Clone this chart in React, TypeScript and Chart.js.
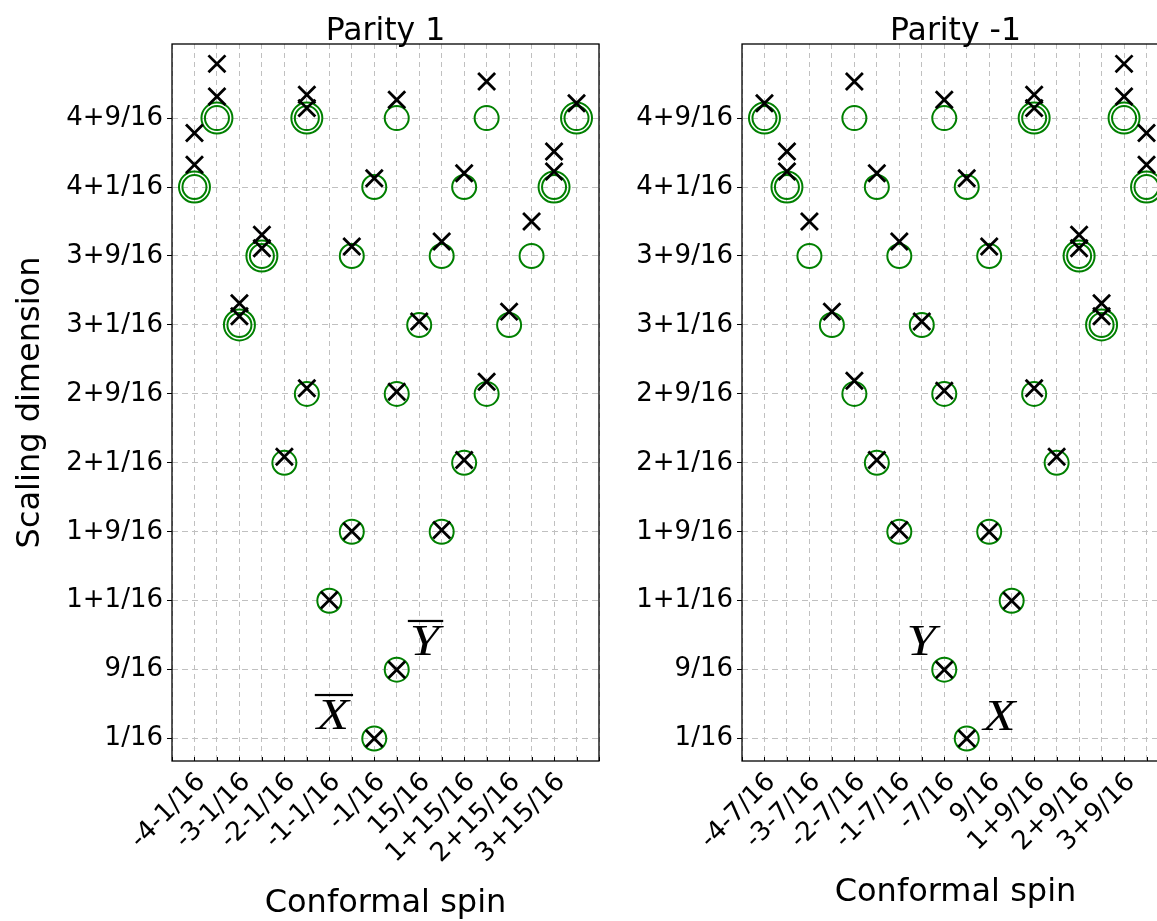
import React, { useEffect, useRef } from "react";
import { Chart, registerables } from "chart.js";

Chart.register(...registerables);

const FONT = '"DejaVu Sans", "Liberation Sans", sans-serif';

// ---- shared y axis ----
const Y_TICK_VALUES = [0.0625, 0.5625, 1.0625, 1.5625, 2.0625, 2.5625, 3.0625, 3.5625, 4.0625, 4.5625];
const Y_TICK_LABELS = ["1/16", "9/16", "1+1/16", "1+9/16", "2+1/16", "2+9/16", "3+1/16", "3+9/16", "4+1/16", "4+9/16"];

// ---- Parity 1 ----
const P1_X_TICK_VALUES = [-4.0625, -3.0625, -2.0625, -1.0625, -0.0625, 0.9375, 1.9375, 2.9375, 3.9375];
const P1_X_TICK_LABELS = ["-4-1/16", "-3-1/16", "-2-1/16", "-1-1/16", "-1/16", "15/16", "1+15/16", "2+15/16", "3+15/16"];

const P1_EXACT_SPIN = [
  -3.5625, -1.5625, 0.4375, 2.4375, 4.4375,
  -4.0625, -0.0625, 1.9375, 3.9375,
  -2.5625, -0.5625, 1.4375, 3.4375,
  -3.0625, 0.9375, 2.9375,
  -1.5625, 0.4375, 2.4375,
  -2.0625, 1.9375,
  -0.5625, 1.4375,
  -1.0625,
  0.4375,
  -0.0625,
];
const P1_EXACT_DIM = [
  4.5625, 4.5625, 4.5625, 4.5625, 4.5625,
  4.0625, 4.0625, 4.0625, 4.0625,
  3.5625, 3.5625, 3.5625, 3.5625,
  3.0625, 3.0625, 3.0625,
  2.5625, 2.5625, 2.5625,
  2.0625, 2.0625,
  1.5625, 1.5625,
  1.0625,
  0.5625,
  0.0625,
];
const P1_DEG_SPIN = [-3.5625, -1.5625, 4.4375, -4.0625, 3.9375, -2.5625, -3.0625];
const P1_DEG_DIM = [4.5625, 4.5625, 4.5625, 4.0625, 4.0625, 3.5625, 3.0625];

const P1_NUM_SPIN = [
  -4.0625, -4.0625, -3.5625, -3.5625, -3.0625, -3.0625, -2.5625, -2.5625,
  -2.0625, -1.5625, -1.5625, -1.5625, -1.0625, -0.5625, -0.5625, -0.0625,
  -0.0625, 0.4375, 0.4375, 0.4375, 0.9375, 1.4375, 1.4375, 1.9375,
  1.9375, 2.4375, 2.4375, 2.9375, 3.4375, 3.9375, 3.9375, 4.4375,
];
const P1_NUM_DIM = [
  4.224, 4.454, 4.719, 4.956, 3.125, 3.22, 3.619, 3.716,
  2.107, 2.603, 4.635, 4.732, 1.067, 1.566, 3.631, 0.0625,
  4.127, 0.5625, 2.578, 4.695, 3.087, 1.575, 3.667, 2.083,
  4.163, 2.651, 4.828, 3.159, 3.812, 4.175, 4.32, 4.671,
];

// ---- Parity -1 ----
const PM1_X_TICK_VALUES = [-4.4375, -3.4375, -2.4375, -1.4375, -0.4375, 0.5625, 1.5625, 2.5625, 3.5625];
const PM1_X_TICK_LABELS = ["-4-7/16", "-3-7/16", "-2-7/16", "-1-7/16", "-7/16", "9/16", "1+9/16", "2+9/16", "3+9/16"];

const PM1_EXACT_SPIN = [
  -4.4375, -2.4375, -0.4375, 1.5625, 3.5625,
  -3.9375, -1.9375, 0.0625, 4.0625,
  -3.4375, -1.4375, 0.5625, 2.5625,
  -2.9375, -0.9375, 3.0625,
  -2.4375, -0.4375, 1.5625,
  -1.9375, 2.0625,
  -1.4375, 0.5625,
  1.0625,
  -0.4375,
  0.0625,
];
const PM1_EXACT_DIM = [
  4.5625, 4.5625, 4.5625, 4.5625, 4.5625,
  4.0625, 4.0625, 4.0625, 4.0625,
  3.5625, 3.5625, 3.5625, 3.5625,
  3.0625, 3.0625, 3.0625,
  2.5625, 2.5625, 2.5625,
  2.0625, 2.0625,
  1.5625, 1.5625,
  1.0625,
  0.5625,
  0.0625,
];
const PM1_DEG_SPIN = [-4.4375, 1.5625, 3.5625, -3.9375, 4.0625, 2.5625, 3.0625];
const PM1_DEG_DIM = [4.5625, 4.5625, 4.5625, 4.0625, 4.0625, 3.5625, 3.0625];

const PM1_NUM_SPIN = [
  -4.4375, -3.9375, -3.9375, -3.4375, -2.9375, -2.4375, -2.4375, -1.9375,
  -1.9375, -1.4375, -1.4375, -0.9375, -0.4375, -0.4375, -0.4375, 0.0625,
  0.0625, 0.5625, 0.5625, 1.0625, 1.5625, 1.5625, 1.5625, 2.0625,
  2.5625, 2.5625, 3.0625, 3.0625, 3.5625, 3.5625, 4.0625, 4.0625,
];
const PM1_NUM_DIM = [
  4.671, 4.175, 4.32, 3.812, 3.159, 2.658, 4.828, 2.083,
  4.163, 1.575, 3.667, 3.087, 0.5625, 2.586, 4.695, 0.0625,
  4.127, 1.5625, 3.631, 1.0625, 2.603, 4.635, 4.732, 2.107,
  3.619, 3.716, 3.125, 3.22, 4.719, 4.956, 4.224, 4.454,
];

type Annot = { text: string; bar: boolean; x: number; y: number };

const P1_ANNOTS: Annot[] = [
  { text: "X", bar: true, x: -1.341, y: 0.129 },
  { text: "Y", bar: true, x: 0.729, y: 0.666 },
];
const PM1_ANNOTS: Annot[] = [
  { text: "Y", bar: false, x: -1.278, y: 0.666 },
  { text: "X", bar: false, x: 0.428, y: 0.127 },
];

interface Panel {
  title: string;
  xMin: number;
  xMax: number;
  xTickValues: number[];
  xTickLabels: string[];
  exactSpin: number[];
  exactDim: number[];
  degSpin: number[];
  degDim: number[];
  numSpin: number[];
  numDim: number[];
  annots: Annot[];
  yAxisWidth: number;
  padRight: number;
  yTitle: boolean;
  xTitlePad: number;
}

const PANELS: Panel[] = [
  {
    title: "Parity 1",
    xMin: -4.5625,
    xMax: 4.9375,
    xTickValues: P1_X_TICK_VALUES,
    xTickLabels: P1_X_TICK_LABELS,
    exactSpin: P1_EXACT_SPIN,
    exactDim: P1_EXACT_DIM,
    degSpin: P1_DEG_SPIN,
    degDim: P1_DEG_DIM,
    numSpin: P1_NUM_SPIN,
    numDim: P1_NUM_DIM,
    annots: P1_ANNOTS,
    yAxisWidth: 172,
    padRight: 21,
    yTitle: true,
    xTitlePad: 0,
  },
  {
    title: "Parity -1",
    xMin: -4.9375,
    xMax: 4.5625,
    xTickValues: PM1_X_TICK_VALUES,
    xTickLabels: PM1_X_TICK_LABELS,
    exactSpin: PM1_EXACT_SPIN,
    exactDim: PM1_EXACT_DIM,
    degSpin: PM1_DEG_SPIN,
    degDim: PM1_DEG_DIM,
    numSpin: PM1_NUM_SPIN,
    numDim: PM1_NUM_DIM,
    annots: PM1_ANNOTS,
    yAxisWidth: 142,
    padRight: 31,
    yTitle: false,
    xTitlePad: 11,
  },
];

const pts = (xs: number[], ys: number[]) => xs.map((x, i) => ({ x, y: ys[i] }));

function buildConfig(p: Panel): any {
  const decor = {
    id: "decor",
    afterDraw(chart: any) {
      const { ctx, chartArea } = chart;
      const xs = chart.scales.x;
      const ys = chart.scales.y;
      ctx.save();
      // inward x ticks
      ctx.strokeStyle = "#000";
      ctx.lineWidth = 1;
      xs.ticks.forEach((t: any) => {
        const px = Math.round(xs.getPixelForValue(t.value)) + 0.5;
        ctx.beginPath();
        ctx.moveTo(px, chartArea.bottom);
        ctx.lineTo(px, chartArea.bottom - 4);
        ctx.stroke();
      });
      // frame
      ctx.lineWidth = 1.3;
      ctx.strokeRect(chartArea.left, chartArea.top, chartArea.right - chartArea.left, chartArea.bottom - chartArea.top);
      // title
      ctx.fillStyle = "#000";
      ctx.font = `31.5px ${FONT}`;
      ctx.textAlign = "center";
      ctx.textBaseline = "alphabetic";
      ctx.fillText(p.title, (chartArea.left + chartArea.right) / 2, 40);
      // annotations
      p.annots.forEach((a) => {
        const px = xs.getPixelForValue(a.x);
        const py = ys.getPixelForValue(a.y);
        ctx.save();
        ctx.font = `italic 44px "Liberation Serif", "DejaVu Serif", serif`;
        ctx.textAlign = "left";
        ctx.translate(px, py);
        ctx.scale(1.2, 1);
        ctx.fillText(a.text, 0, 0);
        const w = ctx.measureText(a.text).width;
        ctx.restore();
        if (a.bar) {
          ctx.fillRect(px - 2, py - 35.5, w * 1.2 + 6, 2.2);
        }
      });
      ctx.restore();
    },
  };

  return {
    type: "scatter",
    data: {
      datasets: [
        {
          label: "numerical",
          data: pts(p.numSpin, p.numDim),
          pointStyle: "crossRot",
          pointRadius: 12,
          pointHoverRadius: 12,
          pointBorderColor: "#000000",
          pointBackgroundColor: "#000000",
          pointBorderWidth: 2.8,
          pointHoverBorderWidth: 2.8,
          showLine: false,
          order: 0,
          clip: false,
        },
        {
          label: "exact",
          data: pts(p.exactSpin, p.exactDim),
          pointStyle: "circle",
          pointRadius: 12,
          pointHoverRadius: 12,
          pointBorderColor: "#008000",
          pointBackgroundColor: "rgba(0,0,0,0)",
          pointBorderWidth: 2,
          pointHoverBorderWidth: 2,
          showLine: false,
          order: 1,
          clip: false,
        },
        {
          label: "degenerate",
          data: pts(p.degSpin, p.degDim),
          pointStyle: "circle",
          pointRadius: 15.5,
          pointHoverRadius: 15.5,
          pointBorderColor: "#008000",
          pointBackgroundColor: "rgba(0,0,0,0)",
          pointBorderWidth: 2,
          pointHoverBorderWidth: 2,
          showLine: false,
          order: 2,
          clip: false,
        },
      ],
    },
    options: {
      responsive: false,
      animation: false,
      events: [],
      layout: { padding: { left: 0, top: 44, right: p.padRight, bottom: 0 } },
      plugins: {
        legend: { display: false },
        tooltip: { enabled: false },
        title: { display: false },
      },
      scales: {
        x: {
          type: "linear",
          min: p.xMin,
          max: p.xMax,
          afterBuildTicks: (scale: any) => {
            const t: any[] = [];
            for (let v = p.xMin; v <= p.xMax + 1e-9; v += 0.5) t.push({ value: v });
            scale.ticks = t;
          },
          afterFit: (scale: any) => {
            scale.height = 160;
            scale.paddingLeft = 0;
            scale.paddingRight = 0;
          },
          ticks: {
            autoSkip: false,
            minRotation: 45,
            maxRotation: 45,
            padding: 6,
            labelOffset: 7,
            color: "#000",
            font: { family: FONT, size: 26 },
            callback: (value: number) => {
              const i = p.xTickValues.findIndex((v) => Math.abs(v - value) < 1e-6);
              return i >= 0 ? p.xTickLabels[i] : "";
            },
          },
          grid: {
            color: "#c0c0c0",
            lineWidth: 1,
            drawTicks: false,
          },
          border: { display: false, dash: [5, 4] },
          title: {
            display: true,
            text: "Conformal spin",
            color: "#000",
            font: { family: FONT, size: 32, lineHeight: 1.1 },
            padding: { top: 0, bottom: p.xTitlePad },
          },
        },
        y: {
          type: "linear",
          min: -0.1,
          max: 5.1,
          afterBuildTicks: (scale: any) => {
            scale.ticks = Y_TICK_VALUES.map((v) => ({ value: v }));
          },
          afterFit: (scale: any) => {
            scale.width = p.yAxisWidth;
            scale.paddingTop = 0;
            scale.paddingBottom = 0;
          },
          ticks: {
            autoSkip: false,
            padding: 4,
            color: "#000",
            font: { family: FONT, size: 26 },
            callback: (value: number) => {
              const i = Y_TICK_VALUES.findIndex((v) => Math.abs(v - value) < 1e-6);
              return i >= 0 ? Y_TICK_LABELS[i] : "";
            },
          },
          grid: {
            color: "#c0c0c0",
            lineWidth: 1,
            drawTicks: true,
            tickLength: 5,
            tickColor: "#000",
            tickWidth: 1,
          },
          border: { display: false, dash: [6, 4] },
          title: {
            display: p.yTitle,
            text: "Scaling dimension",
            color: "#000",
            font: { family: FONT, size: 32, lineHeight: 1.1 },
            padding: { top: 13, bottom: 0 },
          },
        },
      },
    },
    plugins: [decor],
  };
}

function PanelChart({ panel, left, width }: { panel: Panel; left: number; width: number }) {
  const ref = useRef<HTMLCanvasElement>(null);
  useEffect(() => {
    if (!ref.current) return;
    const chart = new Chart(ref.current, buildConfig(panel));
    return () => chart.destroy();
  }, [panel]);
  return (
    <div style={{ position: "absolute", left, top: 0, width, height: 921 }}>
      <canvas ref={ref} width={width} height={921} style={{ width, height: 921, display: "block" }} />
    </div>
  );
}

export default function App() {
  return (
    <div
      style={{
        position: "absolute",
        left: 0,
        top: 0,
        width: 1157,
        height: 921,
        overflow: "hidden",
        background: "#ffffff",
      }}
    >
      <PanelChart panel={PANELS[0]} left={0} width={620} />
      <PanelChart panel={PANELS[1]} left={600} width={600} />
    </div>
  );
}
